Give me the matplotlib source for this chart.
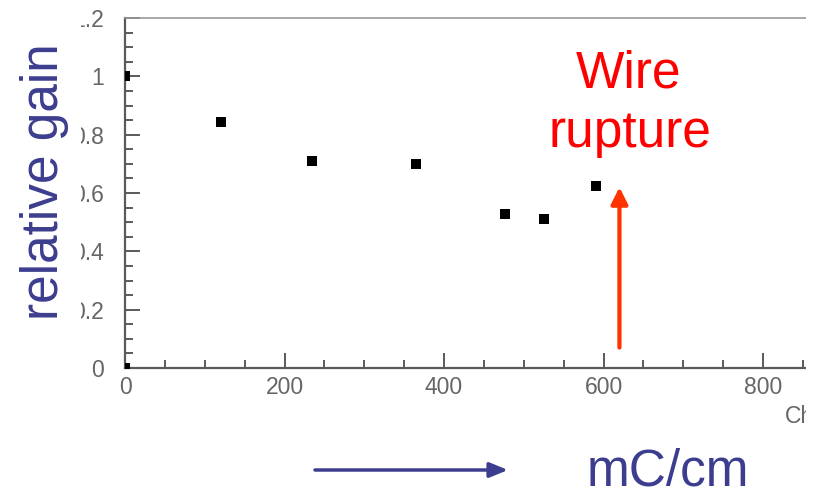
import matplotlib
matplotlib.use("Agg")
import matplotlib.pyplot as plt
from matplotlib.patches import Rectangle
from matplotlib.ticker import MultipleLocator

# Accumulated charge (mC/cm) and measured relative gain
charge = [0, 0, 121, 235, 365, 476, 525, 591]
gain = [0.0, 1.0, 0.845, 0.71, 0.698, 0.527, 0.511, 0.624]

x_ticks = [0, 200, 400, 600, 800]
y_ticks = [0, 0.2, 0.4, 0.6, 0.8, 1.0, 1.2]
y_tick_labels = ["0", "0.2", "0.4", "0.6", "0.8", "1", "1.2"]

rupture_charge = 620
rupture_arrow = (0.07, 0.62)

W, H = 814, 492
fig = plt.figure(figsize=(W / 100, H / 100), dpi=100)
fig.patch.set_facecolor("white")

ax_left, ax_right, ax_top, ax_bottom = 125, 806, 18, 368
ax = fig.add_axes([ax_left / W, (H - ax_bottom) / H,
                   (ax_right - ax_left) / W, (ax_bottom - ax_top) / H])

ax.scatter(charge, gain, marker="s", s=46, color="black", zorder=3, linewidths=0)

ax.set_xlim(0, (ax_right - ax_left) / 0.7975)
ax.set_ylim(0, 1.2)

ax.set_xticks(x_ticks)
ax.set_yticks(y_ticks)
ax.set_yticklabels(y_tick_labels)
ax.xaxis.set_minor_locator(MultipleLocator(50))
ax.yaxis.set_minor_locator(MultipleLocator(0.05))

tick_color = "#5a5a5a"
ax.tick_params(which="both", direction="in", color=tick_color, width=1.4,
               labelcolor="#666666", labelsize=16.5,
               top=False, right=False)
ax.tick_params(which="major", length=11)
ax.tick_params(which="minor", length=5.5)
ax.tick_params(axis="x", which="major", pad=6)
ax.tick_params(axis="y", which="major", pad=15)
for lab in ax.get_xticklabels() + ax.get_yticklabels():
    lab.set_fontfamily("Liberation Sans")

ax.spines["right"].set_visible(False)
ax.spines["left"].set_color(tick_color)
ax.spines["bottom"].set_color(tick_color)
ax.spines["left"].set_linewidth(1.6)
ax.spines["bottom"].set_linewidth(1.6)
ax.spines["top"].set_color("#9a9a9a")
ax.spines["top"].set_linewidth(1.2)

# Axis title at the lower right, running past the frame edge
fig.text(785 / W, (H - 423) / H, "Charge", fontsize=16.5, color="#666666",
         family="Liberation Sans", ha="left", va="baseline")

# Rupture marker arrow
ax.annotate("", xy=(rupture_charge, rupture_arrow[1]),
            xytext=(rupture_charge, rupture_arrow[0]),
            arrowprops=dict(arrowstyle="-|>,head_length=1.0,head_width=0.5",
                            color="#ff3300", lw=3, shrinkA=0, shrinkB=0),
            annotation_clip=False)

# Cropping frames on both sides
fig.add_artist(Rectangle((0, 0), 81 / W, 1, transform=fig.transFigure,
                         facecolor="white", edgecolor="none", zorder=5))
fig.add_artist(Rectangle((ax_right / W + 0.0005, 0), 1, 1, transform=fig.transFigure,
                         facecolor="white", edgecolor="none", zorder=5))

blue = "#3d3d8f"
big = 37
fig.text(58 / W, (H - 182) / H, "relative gain", rotation=90,
         rotation_mode="anchor", ha="center", va="baseline",
         fontsize=big, color=blue, family="Liberation Sans", zorder=10)

fig.text(629 / W, (H - 87) / H, "Wire", fontsize=big, color="#ff0000",
         family="Liberation Sans", ha="center", va="baseline", zorder=10)
fig.text(630 / W, (H - 147) / H, "rupture", fontsize=big, color="#ff0000",
         family="Liberation Sans", ha="center", va="baseline", zorder=10)

fig.text(587 / W, (H - 485) / H, "mC/cm", fontsize=big, color=blue,
         family="Liberation Sans", ha="left", va="baseline", zorder=10)

ax.annotate("", xy=(508, H - 470), xytext=(315, H - 470),
            xycoords="figure pixels", textcoords="figure pixels",
            arrowprops=dict(arrowstyle="-|>,head_length=1.1,head_width=0.45",
                            color=blue, lw=2.5, shrinkA=0, shrinkB=0),
            annotation_clip=False)

fig.savefig("out.png", dpi=100, facecolor="white")
